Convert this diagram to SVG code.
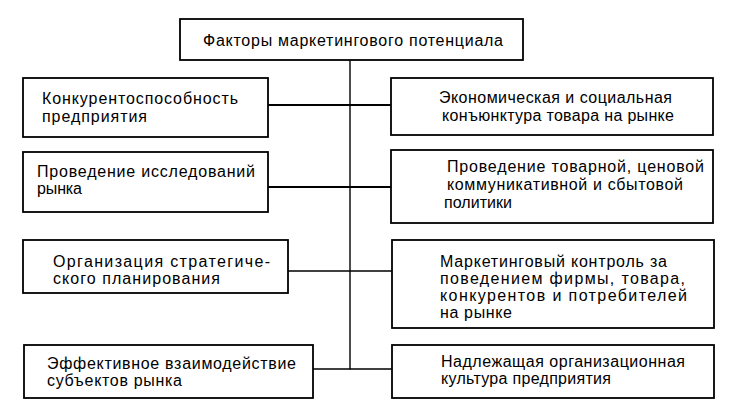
<svg xmlns="http://www.w3.org/2000/svg" width="730" height="412" viewBox="0 0 730 412">
<style>
.box{fill:#fff;stroke:#000;stroke-width:1.8}
.t{font-family:"Liberation Sans",Arial,sans-serif;font-size:16px;fill:#000}
.c{stroke:#000;fill:none}
</style>
<rect width="730" height="412" fill="#fff"/>
<g id="connectors">
<line class="c" x1="350" y1="60" x2="350" y2="369.5" stroke-width="1.4"/>
<line class="c" x1="268" y1="105" x2="391" y2="105" stroke-width="2"/>
<line class="c" x1="268" y1="187" x2="391" y2="187" stroke-width="1.8"/>
<line class="c" x1="288" y1="271" x2="392" y2="271" stroke-width="1.4"/>
<line class="c" x1="313" y1="369" x2="392" y2="369" stroke-width="1.4"/>
</g>
<g id="top">
<rect class="box" x="180" y="19" width="343" height="41"/>
<text class="t" x="203" y="46" textLength="300" lengthAdjust="spacing">Факторы маркетингового потенциала</text>
</g>
<g id="l1">
<rect class="box" x="23" y="78" width="245" height="59"/>
<text class="t" x="42" y="104" textLength="196" lengthAdjust="spacing">Конкурентоспособность</text>
<text class="t" x="42" y="122" textLength="105" lengthAdjust="spacing">предприятия</text>
</g>
<g id="r1">
<rect class="box" x="391" y="78" width="322" height="57"/>
<text class="t" x="439" y="103" textLength="233" lengthAdjust="spacing">Экономическая и социальная</text>
<text class="t" x="442" y="121" textLength="232" lengthAdjust="spacing">конъюнктура товара на рынке</text>
</g>
<g id="l2">
<rect class="box" x="23" y="152" width="245" height="60"/>
<text class="t" x="37" y="177" textLength="218" lengthAdjust="spacing">Проведение исследований</text>
<text class="t" x="37" y="194" textLength="45" lengthAdjust="spacing">рынка</text>
</g>
<g id="r2">
<rect class="box" x="391" y="150" width="322" height="73"/>
<text class="t" x="447" y="172" textLength="257" lengthAdjust="spacing">Проведение товарной, ценовой</text>
<text class="t" x="447" y="190" textLength="236" lengthAdjust="spacing">коммуникативной и сбытовой</text>
<text class="t" x="444" y="208" textLength="68" lengthAdjust="spacing">политики</text>
</g>
<g id="l3">
<rect class="box" x="23" y="240" width="265" height="53"/>
<text class="t" x="53" y="267" textLength="217" lengthAdjust="spacing">Организация стратегиче-</text>
<text class="t" x="53" y="284" textLength="167" lengthAdjust="spacing">ского планирования</text>
</g>
<g id="r3">
<rect class="box" x="392" y="240" width="322" height="88"/>
<text class="t" x="440" y="267" textLength="227" lengthAdjust="spacing">Маркетинговый контроль за</text>
<text class="t" x="440" y="284" textLength="245" lengthAdjust="spacing">поведением фирмы, товара,</text>
<text class="t" x="440" y="301" textLength="247" lengthAdjust="spacing">конкурентов и потребителей</text>
<text class="t" x="440" y="318" textLength="72" lengthAdjust="spacing">на рынке</text>
</g>
<g id="l4">
<rect class="box" x="24" y="345" width="289" height="53"/>
<text class="t" x="47" y="369" textLength="249" lengthAdjust="spacing">Эффективное взаимодействие</text>
<text class="t" x="47" y="386" textLength="135" lengthAdjust="spacing">субъектов рынка</text>
</g>
<g id="r4">
<rect class="box" x="392" y="345" width="322" height="53"/>
<text class="t" x="441" y="367" textLength="244" lengthAdjust="spacing">Надлежащая организационная</text>
<text class="t" x="441" y="384" textLength="170" lengthAdjust="spacing">культура предприятия</text>
</g>
</svg>
